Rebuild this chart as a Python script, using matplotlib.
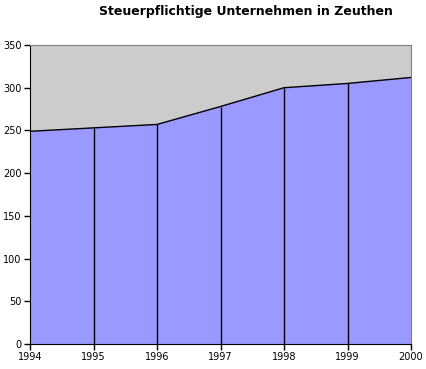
import matplotlib
matplotlib.use("Agg")
import matplotlib.pyplot as plt

years = [1994, 1995, 1996, 1997, 1998, 1999, 2000]
values = [249, 253, 257, 278, 300, 305, 312]
yticks = [0, 50, 100, 150, 200, 250, 300, 350]
title = "Steuerpflichtige Unternehmen in Zeuthen"

fig = plt.figure(figsize=(4.26, 3.69), dpi=100)
ax = fig.add_axes([30/426, 25/369, 381/426, 299/369])
ax.set_facecolor("#CCCCCC")
ax.fill_between(years, values, 0, color="#9999FF", zorder=1)
ax.plot(years, values, color="black", lw=1, zorder=2)
ax.vlines(years[1:-1], 0, values[1:-1], color="black", lw=1, zorder=2)
ax.set_xlim(years[0], years[-1])
ax.set_ylim(0, 350)
ax.set_xticks(years)
ax.set_xticklabels([str(y) for y in years])
ax.set_yticks(yticks)
ax.tick_params(axis="both", labelsize=7, length=4, width=1, color="black", direction="out", pad=2)
for s in ["top", "right"]:
    ax.spines[s].set_color("#808080")
for s in ["left", "bottom"]:
    ax.spines[s].set_color("black")
fig.text(246/426, 1 - 12/369, title, ha="center", va="center", fontsize=9, fontweight="bold")
fig.savefig("out.png", dpi=100)
